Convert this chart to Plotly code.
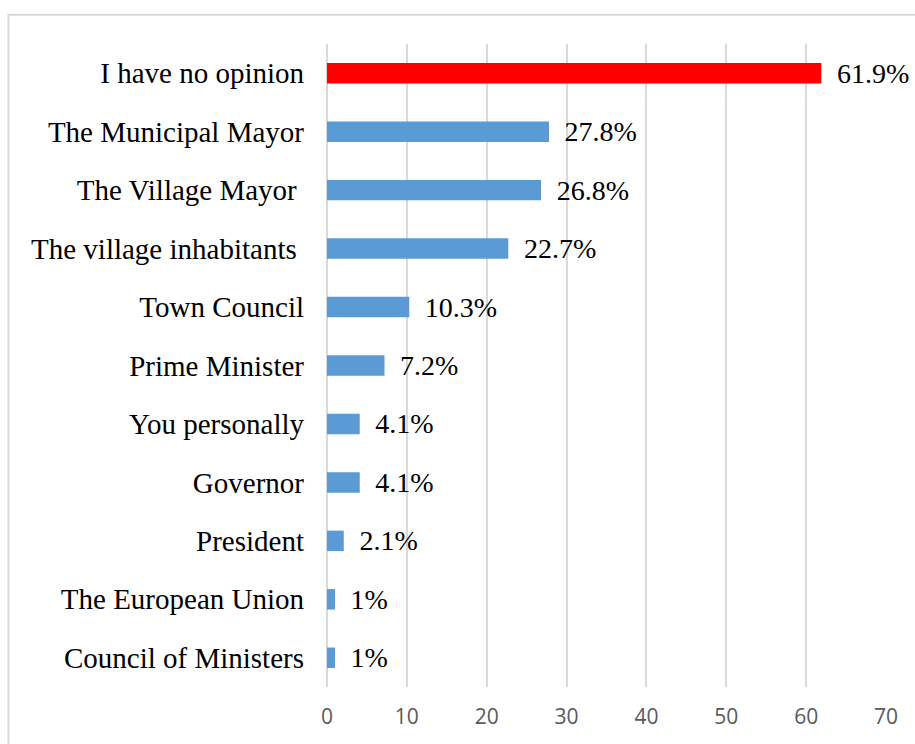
import plotly.graph_objects as go

categories = [
    "I have no opinion",
    "The Municipal Mayor",
    "The Village Mayor\u00a0",
    "The village inhabitants\u00a0",
    "Town Council",
    "Prime Minister",
    "You personally",
    "Governor",
    "President",
    "The European Union",
    "Council of Ministers",
]
values = [61.9, 27.8, 26.8, 22.7, 10.3, 7.2, 4.1, 4.1, 2.1, 1, 1]
value_labels = ["61.9%", "27.8%", "26.8%", "22.7%", "10.3%", "7.2%", "4.1%", "4.1%", "2.1%", "1%", "1%"]
tick_values = [0, 10, 20, 30, 40, 50, 60, 70]

RED = "#FF0000"
BLUE = "#5B9BD5"
colors = [RED] + [BLUE] * (len(values) - 1)

fig = go.Figure(
    go.Bar(
        x=values,
        y=categories,
        orientation="h",
        marker=dict(color=colors, line=dict(width=0)),
        text=["\u00a0\u2009" + t for t in value_labels],
        textposition="outside",
        constraintext="none",
        cliponaxis=False,
        textfont=dict(family="Liberation Serif", size=28, color="#000000"),
        hoverinfo="skip",
    )
)

fig.update_layout(
    width=915,
    height=744,
    margin=dict(l=327, r=29, t=44, b=57),
    paper_bgcolor="white",
    plot_bgcolor="white",
    bargap=0.65,
    showlegend=False,
    xaxis=dict(
        range=[0, 70],
        tickvals=tick_values,
        showgrid=True,
        gridcolor="#D9D9D9",
        gridwidth=1.5,
        zeroline=True,
        zerolinecolor="#D9D9D9",
        zerolinewidth=1.5,
        showline=False,
        ticks="",
        tickfont=dict(family="Open Sans", size=21, color="#595959"),
        ticklabelstandoff=15,
        fixedrange=True,
    ),
    yaxis=dict(
        autorange="reversed",
        showgrid=False,
        zeroline=False,
        showline=False,
        ticks="",
        ticklabelstandoff=22,
        tickfont=dict(family="Liberation Serif", size=29, color="#000000"),
        fixedrange=True,
    ),
    shapes=[
        dict(
            type="rect",
            xref="paper",
            yref="paper",
            x0=(8.5 - 327) / 559,
            x1=1.3,
            y0=-0.3,
            y1=1 + (44 - 14.7) / 643,
            line=dict(color="#D9D9D9", width=2),
            fillcolor="rgba(0,0,0,0)",
            layer="below",
        )
    ],
)

fig.write_html("out.html")
